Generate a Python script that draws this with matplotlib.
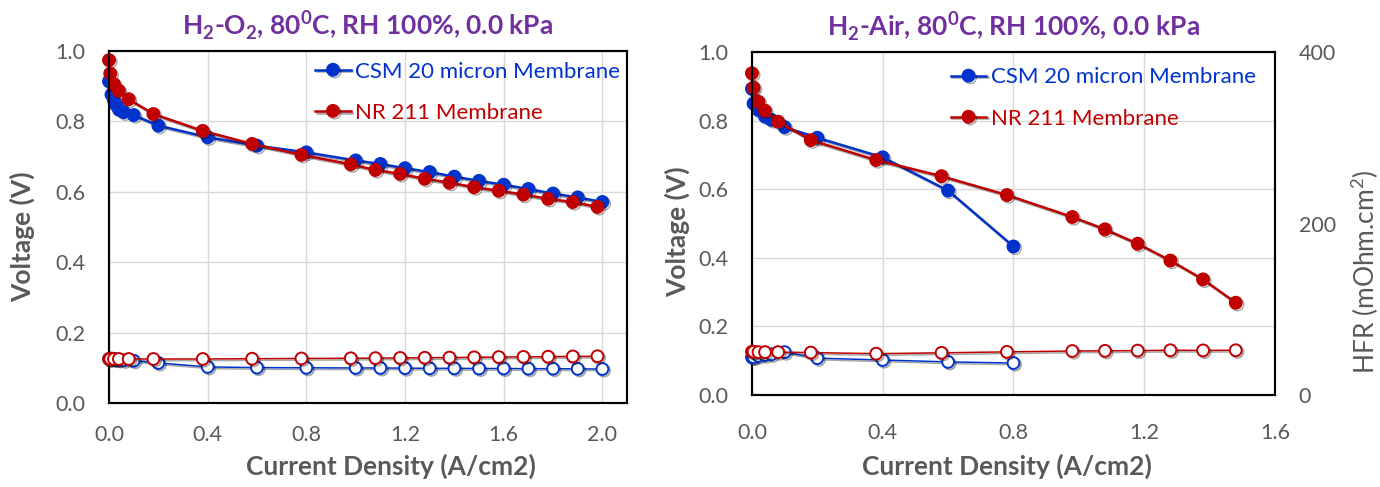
import numpy as np
import matplotlib.pyplot as plt
import matplotlib.patheffects as pe
from matplotlib.ticker import FormatStrFormatter

plt.rcParams['font.family'] = ['Lato', 'DejaVu Sans']

# H2-O2 panel
o2_csm_j = [0, 0.01, 0.02, 0.03, 0.04, 0.06, 0.1, 0.2, 0.4, 0.6, 0.8, 1.0, 1.1,
            1.2, 1.3, 1.4, 1.5, 1.6, 1.7, 1.8, 1.9, 2.0]
o2_csm_v = [0.914, 0.876, 0.86, 0.846, 0.834, 0.826, 0.818, 0.788, 0.755, 0.731,
            0.712, 0.689, 0.679, 0.667, 0.656, 0.643, 0.631, 0.620, 0.608, 0.595,
            0.584, 0.571]
o2_csm_hfr = [50, 50.5, 50, 49.5, 49, 48.5, 48, 45.5, 41, 40.2, 40, 39.8, 39.8,
              39.6, 39.4, 39.4, 39.2, 39.2, 39, 39, 38.8, 38.6]
o2_nr_j = [0, 0.005, 0.02, 0.04, 0.08, 0.18, 0.38, 0.58, 0.78, 0.98, 1.08, 1.18,
           1.28, 1.38, 1.48, 1.58, 1.68, 1.78, 1.88, 1.98]
o2_nr_v = [0.974, 0.936, 0.906, 0.887, 0.863, 0.821, 0.773, 0.736, 0.705, 0.678,
           0.662, 0.651, 0.637, 0.626, 0.613, 0.603, 0.592, 0.580, 0.571, 0.557]
o2_nr_hfr = [50, 50, 50, 50, 50, 50, 50, 50.3, 50.6, 50.8, 51, 51.2, 51.4, 51.6,
             51.9, 52.2, 52.4, 52.6, 52.9, 53.1]

# H2-Air panel
air_csm_j = [0, 0.005, 0.02, 0.04, 0.06, 0.1, 0.2, 0.4, 0.6, 0.8]
air_csm_v = [0.893, 0.850, 0.831, 0.812, 0.802, 0.781, 0.750, 0.693, 0.596, 0.433]
air_csm_hfr = [44, 44, 45.5, 46.5, 47.5, 50, 43, 40.8, 38.6, 37.3]
air_nr_j = [0, 0.005, 0.02, 0.04, 0.08, 0.18, 0.38, 0.58, 0.78, 0.98, 1.08, 1.18,
            1.28, 1.38, 1.48]
air_nr_v = [0.938, 0.896, 0.855, 0.829, 0.797, 0.743, 0.685, 0.638, 0.583, 0.519,
            0.483, 0.441, 0.392, 0.337, 0.269]
air_nr_hfr = [50.5, 50.5, 50, 50, 50, 49.5, 48.2, 49.2, 50.3, 51.3, 51.5, 51.8,
              52.2, 52, 52.2]

blue = '#0033CC'
red = '#C00000'
grey = '#595959'
purple = '#7030A0'
shadow = [pe.SimpleLineShadow(offset=(1.2, -1.2), shadow_color='k', alpha=0.35),
          pe.Normal()]

fig = plt.figure(figsize=(13.8, 4.87), dpi=100)
ax1 = fig.add_axes([0.079, 0.1725, 0.3754, 0.7228])
ax2 = fig.add_axes([0.5449, 0.1889, 0.379, 0.7043])


def draw_panel(ax, csm, nr, xmax, xtick_max, title, show_hfr_axis, xpad):
    tw = ax.twinx()
    for (j, v, hfr), color, lab in [(csm, blue, 'CSM 20 micron Membrane'),
                                    (nr, red, 'NR 211 Membrane')]:
        ax.plot(j, v, '-o', color=color, lw=1.8, ms=9, label=lab,
                path_effects=shadow, clip_on=False, zorder=3)
        tw.plot(j, hfr, '-o', color=color, lw=1.1, ms=8.5, mfc='white',
                mew=1.4, path_effects=shadow, clip_on=False, zorder=3)

    ax.set_xlim(0, xmax)
    ax.set_ylim(0, 1.0)
    tw.set_ylim(0, 400)
    ax.set_xticks(np.arange(0, xtick_max + 0.01, 0.4))
    ax.set_yticks(np.arange(0, 1.01, 0.2))
    ax.xaxis.set_major_formatter(FormatStrFormatter('%.1f'))
    ax.yaxis.set_major_formatter(FormatStrFormatter('%.1f'))
    ax.grid(True, color='#D9D9D9', lw=1)
    ax.set_axisbelow(True)
    ax.tick_params(axis='y', length=0, labelsize=15.5, labelcolor=grey, pad=17)
    ax.tick_params(axis='x', length=0, labelsize=15.5, labelcolor=grey, pad=xpad)
    for a in (ax, tw):
        for s in a.spines.values():
            s.set_color('black')
            s.set_linewidth(1.5)

    if show_hfr_axis:
        tw.set_yticks([0, 200, 400])
        tw.tick_params(axis='y', length=0, labelsize=15.5, labelcolor=grey, pad=17)
        tw.set_ylabel(r'HFR (mOhm.cm$^\mathregular{2}$)', fontsize=19,
                      color=grey)
    else:
        tw.set_yticks([])

    ax.set_title(title, fontsize=19, fontweight='bold', color=purple, pad=12)
    ax.set_ylabel('Voltage (V)', fontsize=19, fontweight='bold', color=grey)
    ax.set_xlabel('Current Density (A/cm2)', fontsize=19, fontweight='bold',
                  color=grey)
    return tw


tw1 = draw_panel(ax1, (o2_csm_j, o2_csm_v, o2_csm_hfr),
                 (o2_nr_j, o2_nr_v, o2_nr_hfr), 2.1, 2.0,
                 r'H$_\mathregular{2}$-O$_\mathregular{2}$, 80$^\mathregular{0}$C, RH 100%, 0.0 kPa',
                 False, 16)
tw2 = draw_panel(ax2, (air_csm_j, air_csm_v, air_csm_hfr),
                 (air_nr_j, air_nr_v, air_nr_hfr), 1.6, 1.6,
                 r'H$_\mathregular{2}$-Air, 80$^\mathregular{0}$C, RH 100%, 0.0 kPa',
                 True, 20)

ax1.yaxis.set_label_coords(-0.143, 0.472)
ax1.xaxis.set_label_coords(0.544, -0.145)
ax2.yaxis.set_label_coords(-0.118, 0.475)
ax2.xaxis.set_label_coords(0.488, -0.17)
tw2.yaxis.set_label_coords(1.14, 0.36)

for ax, x0, y0 in [(ax1, 0.398, 0.97), (ax2, 0.38, 0.955)]:
    leg = ax.legend(loc='upper left', bbox_to_anchor=(x0, y0), frameon=False,
                    fontsize=16, handlelength=1.6, handletextpad=0.2,
                    labelspacing=0.95, borderpad=0, borderaxespad=0,
                    labelcolor='linecolor')

fig.savefig('out.png', dpi=100)
